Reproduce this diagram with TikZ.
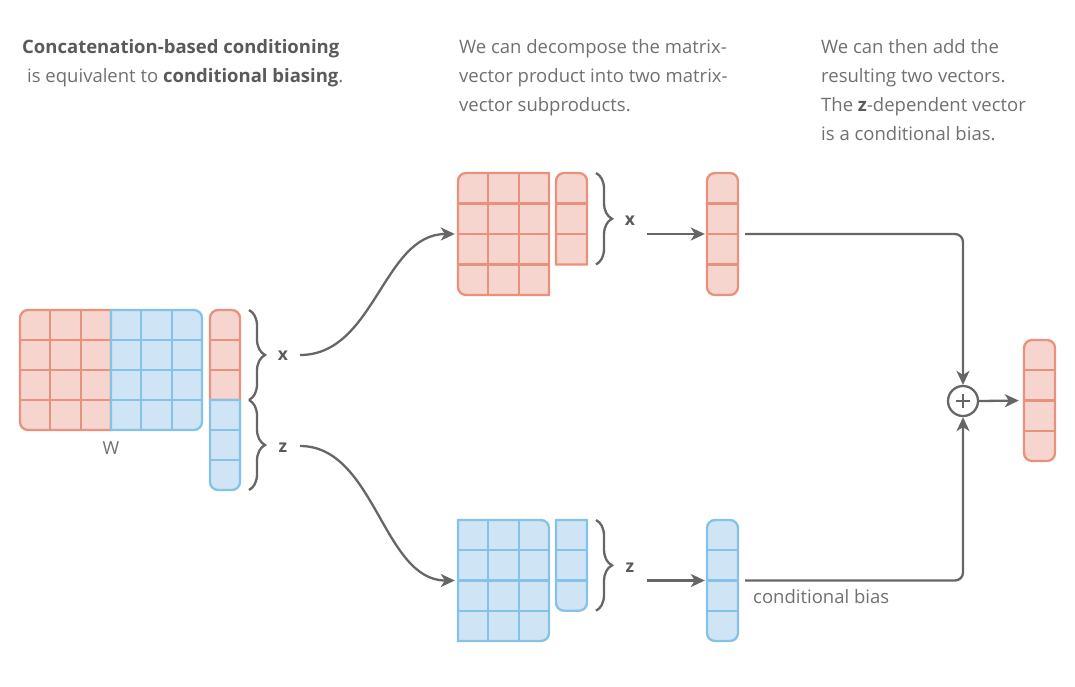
\documentclass[tikz,border=0pt]{standalone}
\usepackage{fontspec}
\setmainfont{Open Sans}
\usetikzlibrary{arrows.meta,decorations.pathreplacing}
\definecolor{rf}{HTML}{F6D5CF}
\definecolor{rl}{HTML}{E8917C}
\definecolor{bf}{HTML}{CFE5F5}
\definecolor{bl}{HTML}{86C1E8}
\definecolor{gl}{HTML}{666666}
\definecolor{gt}{HTML}{707070}
\definecolor{gb}{HTML}{5A5A5A}
% x0 y0 x1 y1 rTL rTR rBR rBL style
\newcommand{\rbox}[9]{\path[#9] ({#1+#5},#2) -- ({#3-#6},#2) arc[start angle=-90,end angle=0,radius=#6] -- (#3,{#4-#7}) arc[start angle=0,end angle=90,radius=#7] -- ({#1+#8},#4) arc[start angle=90,end angle=180,radius=#8] -- (#1,{#2+#5}) arc[start angle=180,end angle=270,radius=#5] -- cycle;}
\tikzset{
  cl/.style={line width=2.3pt},
  arr/.style={draw=gl, line width=2.3pt, -{Stealth[length=14pt,width=13pt,inset=4pt]}},
  br/.style={draw=gl, line width=2.3pt, decorate, decoration={brace, amplitude=16pt}},
  txt/.style={text=gt, font=\fontsize{18.5}{29}\selectfont, inner sep=0pt, anchor=base west},
  lab/.style={text=gb, font=\fontsize{17.5}{20}\selectfont\bfseries, inner sep=1pt},
  anc/.style={inner sep=0pt, draw=none}
}
\begin{document}
\begin{tikzpicture}[x=1pt,y=-1pt]
\useasboundingbox (0,0) rectangle (1075,686);
% ---- texts
\node[txt] (t1) at (22,53) {\textbf{\color{gb}Concatenation-based conditioning}};
\node[txt] (t2) at (27,82) {is equivalent to \textbf{\color{gb}conditional biasing}.};
\node[txt] (m1) at (459,53) {We can decompose the matrix-};
\node[txt] (m2) at (459,82) {vector product into two matrix-};
\node[txt] (m3) at (459,111) {vector subproducts.};
\node[txt] (r1) at (821,53) {We can then add the};
\node[txt] (r2) at (821,82) {resulting two vectors.};
\node[txt] (r3) at (821,111) {The \textbf{\color{gb}z}-dependent vector};
\node[txt] (r4) at (821,140) {is a conditional bias.};
% ---- W matrix
\rbox{20}{310}{111}{430}{8}{0.01}{0.01}{8}{fill=rf}
\foreach \x in {50.3,80.7} \draw[rl,cl] (\x,310) -- (\x,430);
\foreach \y in {340,370,400} \draw[rl,cl] (20,\y) -- (111,\y);
\rbox{20}{310}{111}{430}{8}{0.01}{0.01}{8}{draw=rl,cl}
\rbox{111}{310}{202}{430}{0.01}{8}{8}{0.01}{fill=bf}
\foreach \x in {141.3,171.7} \draw[bl,cl] (\x,310) -- (\x,430);
\foreach \y in {340,370,400} \draw[bl,cl] (111,\y) -- (202,\y);
\rbox{111}{310}{202}{430}{0.01}{8}{8}{0.01}{draw=bl,cl}
\node[text=gt, font=\fontsize{18}{20}\selectfont] (W) at (111,448) {W};
% ---- input vector
\rbox{210}{310}{240}{400}{8}{8}{0.01}{0.01}{fill=rf}
\foreach \y in {340,370} \draw[rl,cl] (210,\y) -- (240,\y);
\rbox{210}{310}{240}{400}{8}{8}{0.01}{0.01}{draw=rl,cl}
\rbox{210}{400}{240}{490}{0.01}{0.01}{8}{8}{fill=bf}
\foreach \y in {430,460} \draw[bl,cl] (210,\y) -- (240,\y);
\rbox{210}{400}{240}{490}{0.01}{0.01}{8}{8}{draw=bl,cl}
\draw[br] (249,310) -- (249,400);
\draw[br] (249,400) -- (249,490);
\node[lab] (xl) at (283,356) {x};
\node[lab] (zl) at (283,448) {z};
% ---- top matrix
\rbox{458}{173}{549}{295}{8}{0.01}{0.01}{8}{fill=rf}
\foreach \x in {488.3,518.7} \draw[rl,cl] (\x,173) -- (\x,295);
\foreach \y in {203.5,234,264.5} \draw[rl,cl] (458,\y) -- (549,\y);
\rbox{458}{173}{549}{295}{8}{0.01}{0.01}{8}{draw=rl,cl}
\rbox{556}{173}{587}{264.5}{8}{8}{0.01}{0.01}{fill=rf}
\foreach \y in {203.5,234} \draw[rl,cl] (556,\y) -- (587,\y);
\rbox{556}{173}{587}{264.5}{8}{8}{0.01}{0.01}{draw=rl,cl}
\draw[br] (596,173) -- (596,264.5);
\node[lab] (xt) at (630,221) {x};
\rbox{707}{173}{738}{295}{8}{8}{8}{8}{fill=rf}
\foreach \y in {203.5,234,264.5} \draw[rl,cl] (707,\y) -- (738,\y);
\rbox{707}{173}{738}{295}{8}{8}{8}{8}{draw=rl,cl}
% ---- bottom matrix
\rbox{458}{520}{549}{641}{0.01}{8}{8}{0.01}{fill=bf}
\foreach \x in {488.3,518.7} \draw[bl,cl] (\x,520) -- (\x,641);
\foreach \y in {550.3,580.5,610.7} \draw[bl,cl] (458,\y) -- (549,\y);
\rbox{458}{520}{549}{641}{0.01}{8}{8}{0.01}{draw=bl,cl}
\rbox{556}{520}{587}{610.7}{0.01}{0.01}{8}{8}{fill=bf}
\foreach \y in {550.3,580.5} \draw[bl,cl] (556,\y) -- (587,\y);
\rbox{556}{520}{587}{610.7}{0.01}{0.01}{8}{8}{draw=bl,cl}
\draw[br] (596,520) -- (596,610.7);
\node[lab] (zt) at (630,568) {z};
\rbox{707}{520}{738}{641}{8}{8}{8}{8}{fill=bf}
\foreach \y in {550.3,580.5,610.7} \draw[bl,cl] (707,\y) -- (738,\y);
\rbox{707}{520}{738}{641}{8}{8}{8}{8}{draw=bl,cl}
\node[txt] (cb) at (753,603) {conditional bias};
% ---- final vector
\rbox{1024}{340}{1055}{461}{8}{8}{8}{8}{fill=rf}
\foreach \y in {370.3,400.5,430.7} \draw[rl,cl] (1024,\y) -- (1055,\y);
\rbox{1024}{340}{1055}{461}{8}{8}{8}{8}{draw=rl,cl}
% ---- anchor nodes
\node[anc, minimum width=91pt, minimum height=122pt] (TM) at (503.5,234) {};
\node[anc, minimum width=91pt, minimum height=121pt] (BM) at (503.5,580.5) {};
\node[anc, minimum width=31pt, minimum height=122pt] (TR) at (722.5,234) {};
\node[anc, minimum width=31pt, minimum height=121pt] (BR) at (722.5,580.5) {};
\node[anc, minimum width=31pt, minimum height=121pt] (FR) at (1039.5,400.5) {};
\node[circle, draw=gl, line width=2.3pt, minimum size=30pt, inner sep=0pt] (plus) at (963,401) {};
\draw[gl, line width=2.3pt] (956,401) -- (970,401) (963,394) -- (963,408);
\coordinate (xs) at (300,355);
\coordinate (zs) at (300,446);
\coordinate (xa) at (647,234);
\coordinate (za) at (647,580.5);
% ---- connectors
\draw[arr, shorten >=3pt] (xs) .. controls +(75,0) and +(-75,0) .. (TM.west);
\draw[arr, shorten >=3pt] (zs) .. controls +(75,0) and +(-75,0) .. (BM.west);
\draw[arr, shorten >=2pt] (xa) -- (TR.west);
\draw[arr, shorten >=2pt] (za) -- (BR.west);
\draw[arr, rounded corners=8pt] ([xshift=7pt]TR.east) -| (plus.north);
\draw[arr, rounded corners=8pt] ([xshift=7pt]BR.east) -| (plus.south);
\draw[arr, shorten >=5pt] (plus.east) -- (FR.west);
\end{tikzpicture}
\end{document}
